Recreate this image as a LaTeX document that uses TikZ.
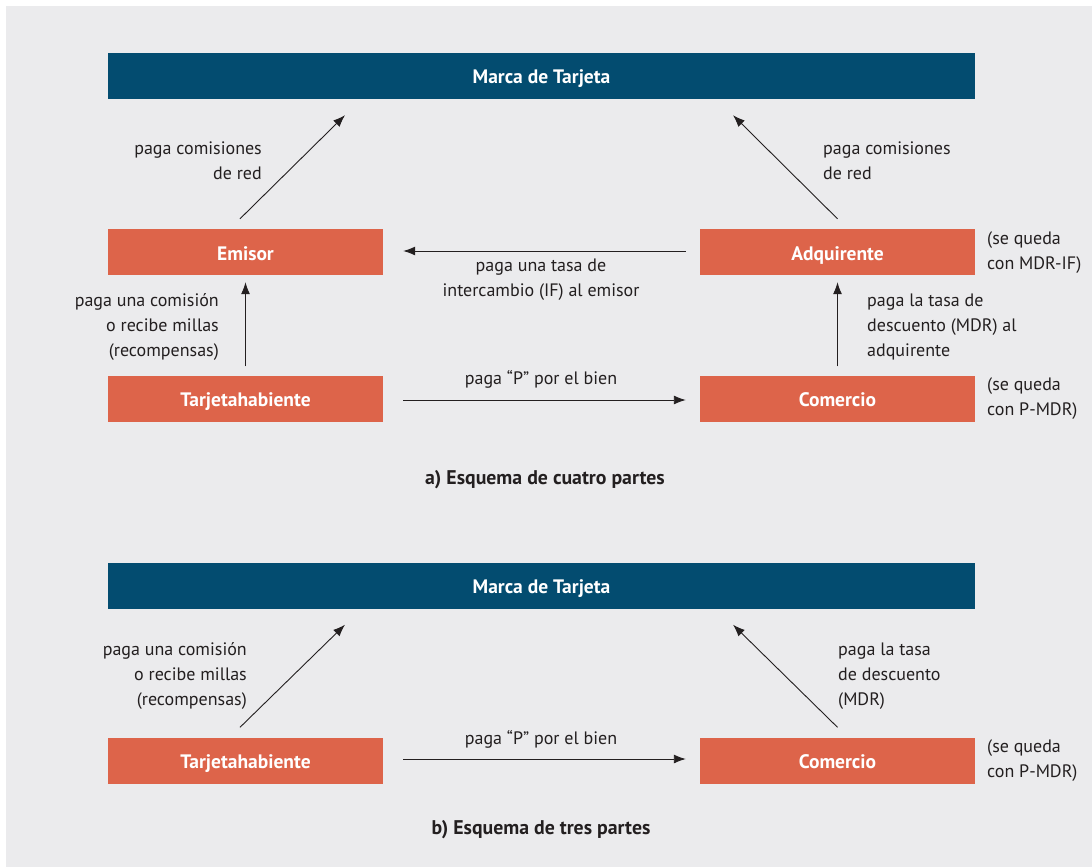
\documentclass[tikz,border=0pt]{standalone}
\usepackage{fontspec}
\setmainfont{PT Sans}
\usetikzlibrary{calc,arrows.meta}
\definecolor{bg}{HTML}{EBEBED}
\definecolor{navy}{HTML}{034C70}
\definecolor{coral}{HTML}{DD644A}
\definecolor{ink}{HTML}{231F20}
\tikzset{
  bar/.style={fill=navy,text=white,minimum width=867pt,minimum height=46pt,inner sep=0pt,text height=16pt,text depth=0pt,font=\fontsize{19.5}{22}\selectfont\bfseries},
  boxnode/.style={fill=coral,text=white,minimum width=275pt,minimum height=46pt,inner sep=0pt,text height=16pt,text depth=0pt,font=\fontsize{19.5}{22}\selectfont\bfseries},
  lbl/.style={text=ink,inner sep=0pt,font=\fontsize{18}{25}\selectfont},
  captext/.style={text=ink,inner sep=0pt,font=\fontsize{19.8}{22}\selectfont\bfseries},
  arr/.style={draw=ink,line width=0.9pt,-{Latex[length=12pt,width=9pt]}}
}
\begin{document}
\begin{tikzpicture}[x=1pt,y=-1pt]
\useasboundingbox (0,0) rectangle (1092,867);
\fill[white] (0,0) rectangle (1092,867);
\fill[bg] (6,6) rectangle (1092,867);

% ---------- a) ----------
\node[bar] (ma) at (541.5,76) {Marca de Tarjeta};
\node[boxnode] (em) at (245.5,252) {Emisor};
\node[boxnode] (ad) at (837.5,252) {Adquirente};
\node[boxnode] (ta) at (245.5,398.5) {Tarjetahabiente};
\node[boxnode] (co) at (837.5,398.5) {Comercio};

\draw[arr] ($(em.north)+(-5.5,-10)$) -- ($(ma.south)+(-196.5,16)$);
\draw[arr] ($(ad.north)+(0,-10)$) -- ($(ma.south)+(191.5,16)$);
\draw[arr] ($(ad.west)+(-14,-1)$) -- ($(em.east)+(20,-1)$);
\draw[arr] ($(ta.east)+(20,1.5)$) -- ($(co.west)+(-14,1.5)$);
\draw[arr] ($(ta.north)+(0,-9)$) -- ($(em.south)+(0,7)$);
\draw[arr] ($(co.north)+(0,-9)$) -- ($(ad.south)+(0,7)$);

\node[lbl,align=right,anchor=east] (l1) at (262,161) {paga comisiones\\de red};
\node[lbl,align=left,anchor=west] (r1) at (823,161) {paga comisiones\\de red};
\node[lbl,align=center] (ifl) at (541,280) {paga una tasa de\\intercambio (IF) al emisor};
\node[lbl,align=right,anchor=east] (cml) at (219,327) {paga una comisión\\o recibe millas\\(recompensas)};
\node[lbl,align=left,anchor=west] (mdl) at (867,327) {paga la tasa de\\descuento (MDR) al\\adquirente};
\node[lbl] (pl) at (541,379) {paga “P” por el bien};
\node[lbl,align=left,anchor=west] (s1) at (987,253) {(se queda\\con MDR-IF)};
\node[lbl,align=left,anchor=west] (s2) at (987,399) {(se queda\\con P-MDR)};
\node[captext] (capa) at (545,480) {a) Esquema de cuatro partes};

% ---------- b) ----------
\node[bar] (mb) at (541.5,585.5) {Marca de Tarjeta};
\node[boxnode] (tb) at (245.5,760.5) {Tarjetahabiente};
\node[boxnode] (cb) at (837.5,760.5) {Comercio};

\draw[arr] ($(tb.north)+(-5.5,-10)$) -- ($(mb.south)+(-196.5,16)$);
\draw[arr] ($(cb.north)+(0,-10)$) -- ($(mb.south)+(191.5,16)$);
\draw[arr] ($(tb.east)+(20,-1.5)$) -- ($(cb.west)+(-14,-1.5)$);

\node[lbl,align=right,anchor=east] (cml2) at (247,676) {paga una comisión\\o recibe millas\\(recompensas)};
\node[lbl,align=left,anchor=west] (mdl2) at (838,676) {paga la tasa\\de descuento\\(MDR)};
\node[lbl] (pl2) at (541,739) {paga “P” por el bien};
\node[lbl,align=left,anchor=west] (s3) at (987,761) {(se queda\\con P-MDR)};
\node[captext] (capb) at (541,830) {b) Esquema de tres partes};
\end{tikzpicture}
\end{document}
